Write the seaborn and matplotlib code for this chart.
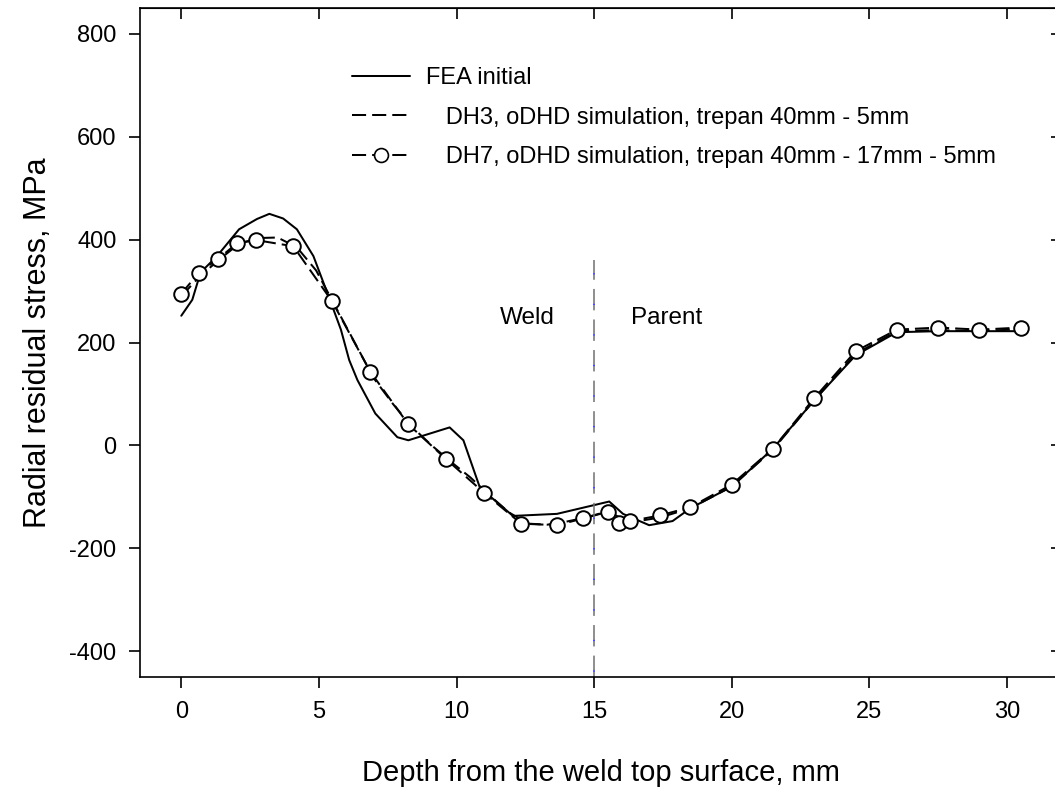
import numpy as np
import pandas as pd
import matplotlib
matplotlib.use("Agg")
import matplotlib.pyplot as plt
import seaborn as sns
from matplotlib.lines import Line2D

# ---------------- data ----------------
fea_x = [0.0, 0.4, 0.7, 1.3, 2.1, 2.75, 3.2, 3.7, 4.2, 4.8, 5.4, 5.8, 6.1, 6.4,
         7.05, 7.85, 8.25, 9.75, 10.25, 10.85, 12.05, 13.65, 15.55, 16.05, 17.0,
         17.85, 18.5, 20.0, 21.5, 23.0, 24.5, 26.0, 27.5, 29.0, 30.5]
fea_y = [252, 283, 336, 368, 420, 440, 450, 441, 420, 368, 283, 225, 166, 127,
         62, 16, 10, 35, 10, -82, -137, -133, -109, -133, -155,
         -147, -122, -80, -6, 88, 175, 220, 222, 222, 222]

dh3_x = [0.0, 0.7, 1.4, 2.1, 2.8, 3.5, 4.2, 4.9, 5.6, 6.3, 7.0, 7.7, 8.4, 9.1,
         9.8, 10.5, 11.2, 11.9, 12.6, 13.3, 14.0, 14.7, 15.5, 16.0, 16.5, 17.4,
         18.5, 20.0, 21.5, 23.0, 24.5, 26.0, 27.5, 29.0, 30.5]
dh3_y = [290, 330, 362, 392, 403, 404, 385, 340, 270, 200, 130, 80, 35, 0,
         -32, -62, -97, -130, -152, -154, -148, -140, -128, -142, -148, -140,
         -122, -80, -8, 88, 178, 222, 224, 222, 226]

dh7_x = [0.0, 0.65, 1.35, 2.03, 2.72, 4.07, 5.48, 6.87, 8.25, 9.63, 11.0, 12.35,
         13.65, 14.6, 15.5, 15.9, 16.3, 17.4, 18.5, 20.0, 21.5, 23.0, 24.5, 26.0,
         27.5, 29.0, 30.5]
dh7_y = [295, 336, 363, 393, 399, 387, 280, 143, 41, -27, -92, -152,
         -155, -142, -129, -150, -147, -136, -120, -76, -6, 92, 183, 225,
         229, 225, 229]

labels = ["FEA initial",
          "   DH3, oDHD simulation, trepan 40mm - 5mm",
          "   DH7, oDHD simulation, trepan 40mm - 17mm - 5mm"]

boundary_x = 15.0
boundary_top = 360
region_text = ["Weld", "Parent"]
region_x = [12.57, 17.65]
region_y = 248

x_ticks = [0, 5, 10, 15, 20, 25, 30]
y_ticks = [-400, -200, 0, 200, 400, 600, 800]

# ---------------- style ----------------
sns.set_style("ticks")
plt.rcParams["font.family"] = ["Liberation Sans", "DejaVu Sans"]
plt.rcParams.update({
    "text.color": "black", "axes.labelcolor": "black",
    "xtick.color": "black", "ytick.color": "black",
    "axes.edgecolor": "black", "axes.unicode_minus": False,
})

fig = plt.figure(figsize=(10.55, 7.89), dpi=100)
ax = fig.add_axes([140 / 1055, 1 - 677 / 789, (1062 - 140) / 1055, (677 - 8) / 789])

lw = 1.45
sns.lineplot(x=fea_x, y=fea_y, ax=ax, color="black", lw=lw, sort=False,
             estimator=None, linestyle="-")
sns.lineplot(x=dh3_x, y=dh3_y, ax=ax, color="black", lw=lw, sort=False,
             estimator=None, linestyle=(0, (7, 3)))
sns.lineplot(x=dh7_x, y=dh7_y, ax=ax, color="black", lw=lw, sort=False,
             estimator=None, linestyle=(0, (7, 3)), marker="o", markersize=10.5,
             markerfacecolor="white", markeredgecolor="black", markeredgewidth=1.4)

ylim = (-450, 850)
# boundary line: grey dashes with blue dots
ax.plot([boundary_x, boundary_x], [ylim[0], boundary_top], color="#707070",
        lw=1.1, linestyle=(0, (14, 6)))
ax.plot([boundary_x, boundary_x], [ylim[0], boundary_top], color="#3030ff",
        lw=1.1, linestyle=(16.5, (0.8, 19.2)))

for t, xx in zip(region_text, region_x):
    ax.text(xx, region_y, t, ha="center", va="center", fontsize=17.5)

ax.set_xlim(-1.5, 32.0)
ax.set_ylim(*ylim)
ax.set_xticks(x_ticks)
ax.set_yticks(y_ticks)
ax.tick_params(axis="both", direction="out", length=8, width=1.2,
               labelsize=17, pad=9)
for s in ax.spines.values():
    s.set_linewidth(1.2)
    s.set_visible(True)

secx = ax.secondary_xaxis("top")
secx.set_xticks(x_ticks)
secx.tick_params(direction="in", length=8, width=1.2, labeltop=False)
secy = ax.secondary_yaxis("right")
secy.set_yticks(y_ticks)
secy.tick_params(direction="in", length=8, width=1.2, labelright=False)

ax.set_xlabel("Depth from the weld top surface, mm", fontsize=21, labelpad=26)
ax.set_ylabel("Radial residual stress, MPa", fontsize=22, labelpad=12)

handles = [
    Line2D([], [], color="black", lw=lw, linestyle="-"),
    Line2D([], [], color="black", lw=lw, linestyle=(0, (7, 3))),
    Line2D([], [], color="black", lw=lw, linestyle=(0, (7, 3)), marker="o",
           markersize=10, markerfacecolor="white", markeredgecolor="black",
           markeredgewidth=1.2),
]
leg = ax.legend(handles, labels, loc="upper left", frameon=False, fontsize=17,
                handlelength=2.45, handletextpad=0.7, labelspacing=0.75,
                bbox_to_anchor=((352 - 140) / 922, 1 - (67 - 8) / 669),
                borderaxespad=0, borderpad=0, numpoints=1)

fig.savefig("out.png", dpi=100)
